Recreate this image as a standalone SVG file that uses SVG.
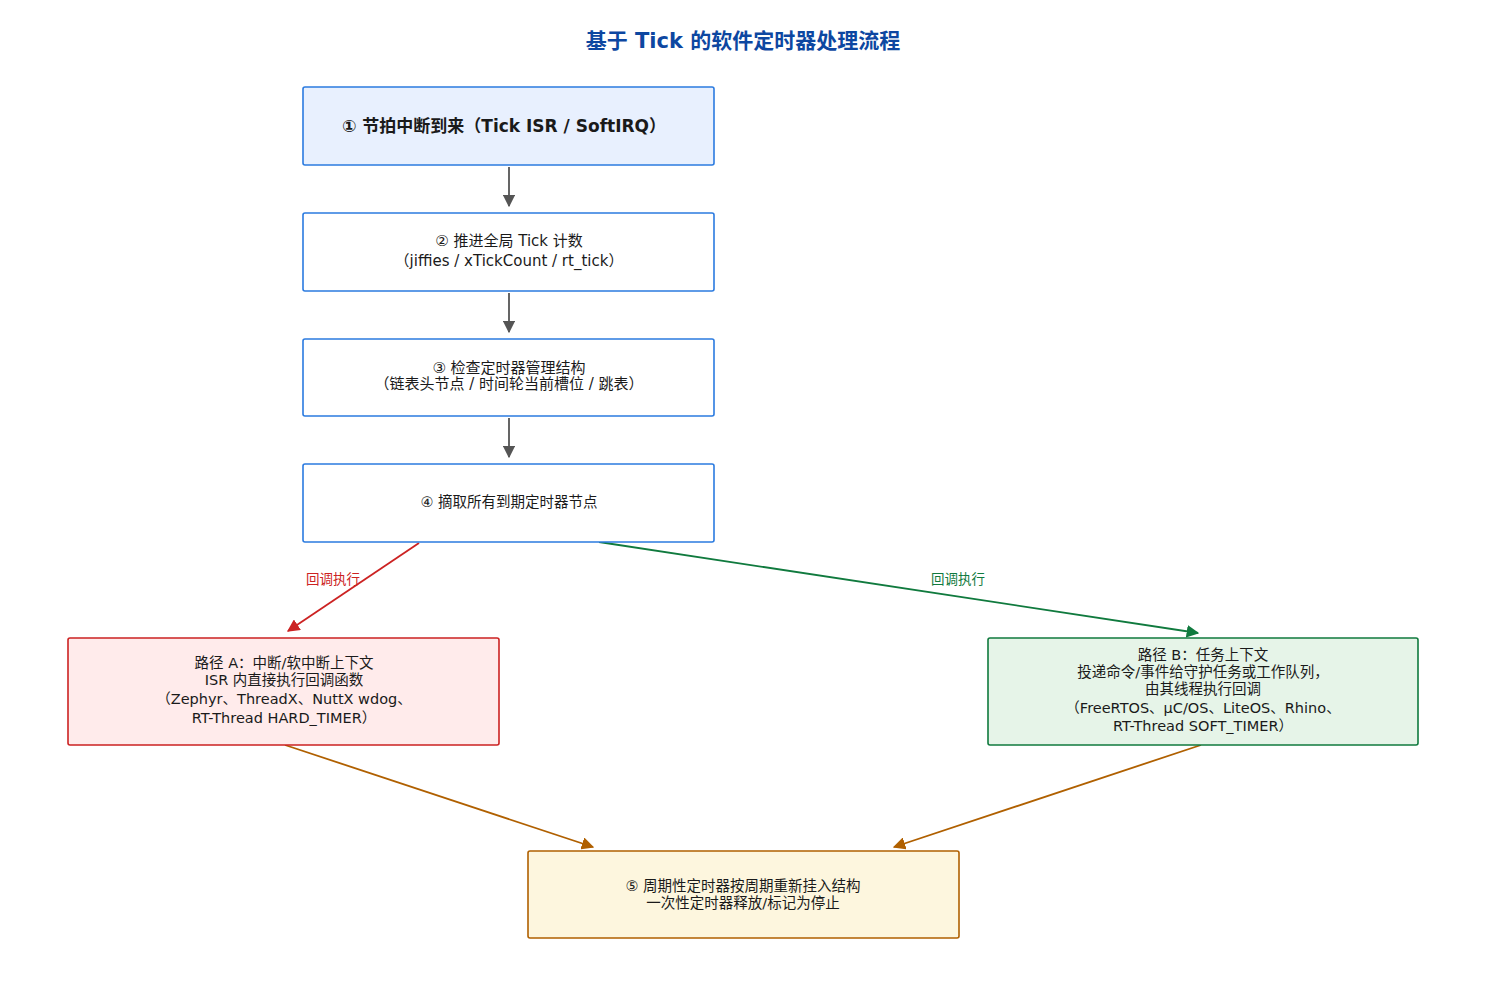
<svg xmlns="http://www.w3.org/2000/svg" width="1487" height="987" viewBox="0 0 1487 987">
<style>
text{font-family:"DejaVu Sans","Noto Sans CJK SC",sans-serif;fill:#1a1a1a;text-anchor:middle}
.b{fill:#fff;stroke:#2b7be0;stroke-width:1.6}
.t{font-size:14.5px}
</style>
<defs>
<marker id="ag" viewBox="0 0 10 10" refX="9" refY="5" markerWidth="7" markerHeight="7" orient="auto"><path d="M0,0L10,5L0,10z" fill="#555"/></marker>
<marker id="ar" viewBox="0 0 10 10" refX="9" refY="5" markerWidth="7" markerHeight="7" orient="auto"><path d="M0,0L10,5L0,10z" fill="#cc2222"/></marker>
<marker id="agr" viewBox="0 0 10 10" refX="9" refY="5" markerWidth="7" markerHeight="7" orient="auto"><path d="M0,0L10,5L0,10z" fill="#107a3e"/></marker>
<marker id="ao" viewBox="0 0 10 10" refX="9" refY="5" markerWidth="7" markerHeight="7" orient="auto"><path d="M0,0L10,5L0,10z" fill="#b06000"/></marker>
</defs>
<rect width="1487" height="987" fill="#fff"/>
<text x="743" y="48" style="font-size:21px;font-weight:bold;fill:#0d47a1">基于 Tick 的软件定时器处理流程</text>
<g id="connectors" fill="none" stroke-width="1.8">
<path d="M509,167V206" stroke="#555" marker-end="url(#ag)"/>
<path d="M509,293V332" stroke="#555" marker-end="url(#ag)"/>
<path d="M509,418V457" stroke="#555" marker-end="url(#ag)"/>
<path d="M419,543L288,631" stroke="#cc2222" marker-end="url(#ar)"/>
<path d="M599,542L1198,633" stroke="#107a3e" marker-end="url(#agr)"/>
<path d="M285,745L593,847" stroke="#b06000" marker-end="url(#ao)"/>
<path d="M1201,745L894,847" stroke="#b06000" marker-end="url(#ao)"/>
<text x="333" y="584" style="font-size:13.5px;fill:#cc2222;stroke:none">回调执行</text>
<text x="958" y="584" style="font-size:13.5px;fill:#107a3e;stroke:none">回调执行</text>
</g>
<g id="n1"><rect x="303" y="87" width="411" height="78" rx="2" class="b" style="fill:#e8f0fe"/>
<text x="504" y="132" style="font-size:17px;font-weight:bold">① 节拍中断到来（Tick ISR / SoftIRQ）</text></g>
<g id="n2"><rect x="303" y="213" width="411" height="78" rx="2" class="b"/>
<text x="509" y="246" style="font-size:15px">② 推进全局 Tick 计数</text>
<text x="509" y="266" style="font-size:15px">（jiffies / xTickCount / rt_tick）</text></g>
<g id="n3"><rect x="303" y="339" width="411" height="77" rx="2" class="b"/>
<text x="509" y="373" style="font-size:15px">③ 检查定时器管理结构</text>
<text x="509" y="389" style="font-size:15px">（链表头节点 / 时间轮当前槽位 / 跳表）</text></g>
<g id="n4"><rect x="303" y="464" width="411" height="78" rx="2" class="b"/>
<text x="509" y="507" style="font-size:14.5px">④ 摘取所有到期定时器节点</text></g>
<g id="nA"><rect x="68" y="638" width="431" height="107" rx="2" style="fill:#ffebeb;stroke:#cc2222;stroke-width:1.6"/>
<text class="t" x="284" y="668">路径 A：中断/软中断上下文</text>
<text class="t" x="284" y="685">ISR 内直接执行回调函数</text>
<text class="t" x="284" y="704">（Zephyr、ThreadX、NuttX wdog、</text>
<text class="t" x="284" y="723">RT-Thread HARD_TIMER）</text></g>
<g id="nB"><rect x="988" y="638" width="430" height="107" rx="2" style="fill:#e6f4e8;stroke:#107a3e;stroke-width:1.6"/>
<text class="t" x="1203" y="660">路径 B：任务上下文</text>
<text class="t" x="1203" y="677">投递命令/事件给守护任务或工作队列，</text>
<text class="t" x="1203" y="694">由其线程执行回调</text>
<text class="t" x="1203" y="713">（FreeRTOS、μC/OS、LiteOS、Rhino、</text>
<text class="t" x="1203" y="731">RT-Thread SOFT_TIMER）</text></g>
<g id="n5"><rect x="528" y="851" width="431" height="87" rx="2" style="fill:#fdf6de;stroke:#b06000;stroke-width:1.6"/>
<text class="t" x="743" y="891">⑤ 周期性定时器按周期重新挂入结构</text>
<text class="t" x="743" y="908">一次性定时器释放/标记为停止</text></g>
</svg>
